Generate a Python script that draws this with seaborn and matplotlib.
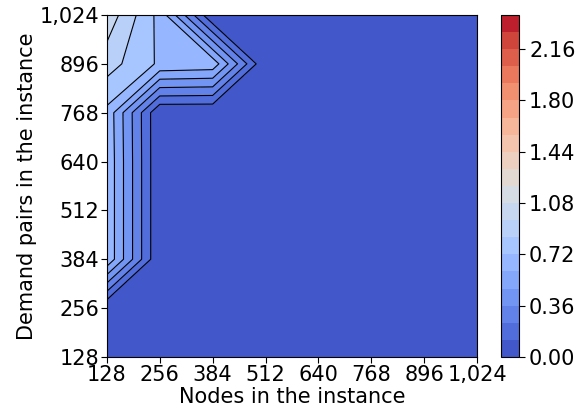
import numpy as np
import pandas as pd
import seaborn as sns
import matplotlib
matplotlib.use("Agg")
import matplotlib.pyplot as plt
from matplotlib.ticker import FuncFormatter

# ---- data ----
nodes = [128, 256, 384, 512, 640, 768, 896, 1024]
demand_pairs = [128, 256, 384, 512, 640, 768, 896, 1024]
# rows = demand pairs (bottom to top), columns = nodes
row_128 = [0.00, 0.00, 0.00, 0.00, 0.00, 0.00, 0.00, 0.00]
row_256 = [0.00, 0.00, 0.00, 0.00, 0.00, 0.00, 0.00, 0.00]
row_384 = [0.70, 0.00, 0.00, 0.00, 0.00, 0.00, 0.00, 0.00]
row_512 = [0.70, 0.00, 0.00, 0.00, 0.00, 0.00, 0.00, 0.00]
row_640 = [0.70, 0.00, 0.00, 0.00, 0.00, 0.00, 0.00, 0.00]
row_768 = [0.69, 0.00, 0.00, 0.00, 0.00, 0.00, 0.00, 0.00]
row_896 = [0.895, 0.70, 0.68, 0.00, 0.00, 0.00, 0.00, 0.00]
row_1024 = [1.04, 0.68, 0.00, 0.00, 0.00, 0.00, 0.00, 0.00]
level_min, level_max, n_bands = 0.0, 2.4, 20

rows = [row_128, row_256, row_384, row_512, row_640, row_768, row_896, row_1024]
df = pd.DataFrame(rows, index=demand_pairs, columns=nodes)

sns.set_style("ticks")
plt.rcParams['font.family'] = ['DejaVu Sans']
for k in ['text.color', 'axes.labelcolor', 'xtick.color', 'ytick.color', 'axes.edgecolor']:
    plt.rcParams[k] = 'black'

fig = plt.figure(figsize=(5.84, 4.17), dpi=100)
ax = fig.add_axes([0.183, 0.144, 0.634, 0.820])
cax = fig.add_axes([0.858, 0.144, 0.030, 0.820])

X, Y = np.meshgrid(df.columns.values, df.index.values)
Z = df.values
levels = np.linspace(level_min, level_max, n_bands + 1)
cmap = sns.color_palette("coolwarm", as_cmap=True)
cf = ax.contourf(X, Y, Z, levels=levels, cmap=cmap)
ax.contour(X, Y, Z, levels=levels[1:], colors='black', linewidths=0.8)

cb = fig.colorbar(cf, cax=cax)
cb.ax.tick_params(labelsize=15, length=4, width=0.8, color='black')
cb.ax.yaxis.set_major_formatter(FuncFormatter(lambda v, p: f"{v:.2f}"))
cb.outline.set_edgecolor('black')
cb.outline.set_linewidth(0.8)

fmt = FuncFormatter(lambda v, p: f"{int(round(v)):,}")
ax.set_xticks(nodes)
ax.set_yticks(demand_pairs)
ax.xaxis.set_major_formatter(fmt)
ax.yaxis.set_major_formatter(fmt)
ax.tick_params(labelsize=15, direction='out', length=4, width=0.8)
ax.tick_params(axis='x', pad=2)
ax.tick_params(axis='y', pad=1.5)
ax.set_xlabel("Nodes in the instance", fontsize=15, labelpad=1)
ax.set_ylabel("Demand pairs in the instance", fontsize=15, labelpad=2)
for s in ax.spines.values():
    s.set_color('black')
    s.set_linewidth(0.8)

fig.savefig("out.png", dpi=100)
